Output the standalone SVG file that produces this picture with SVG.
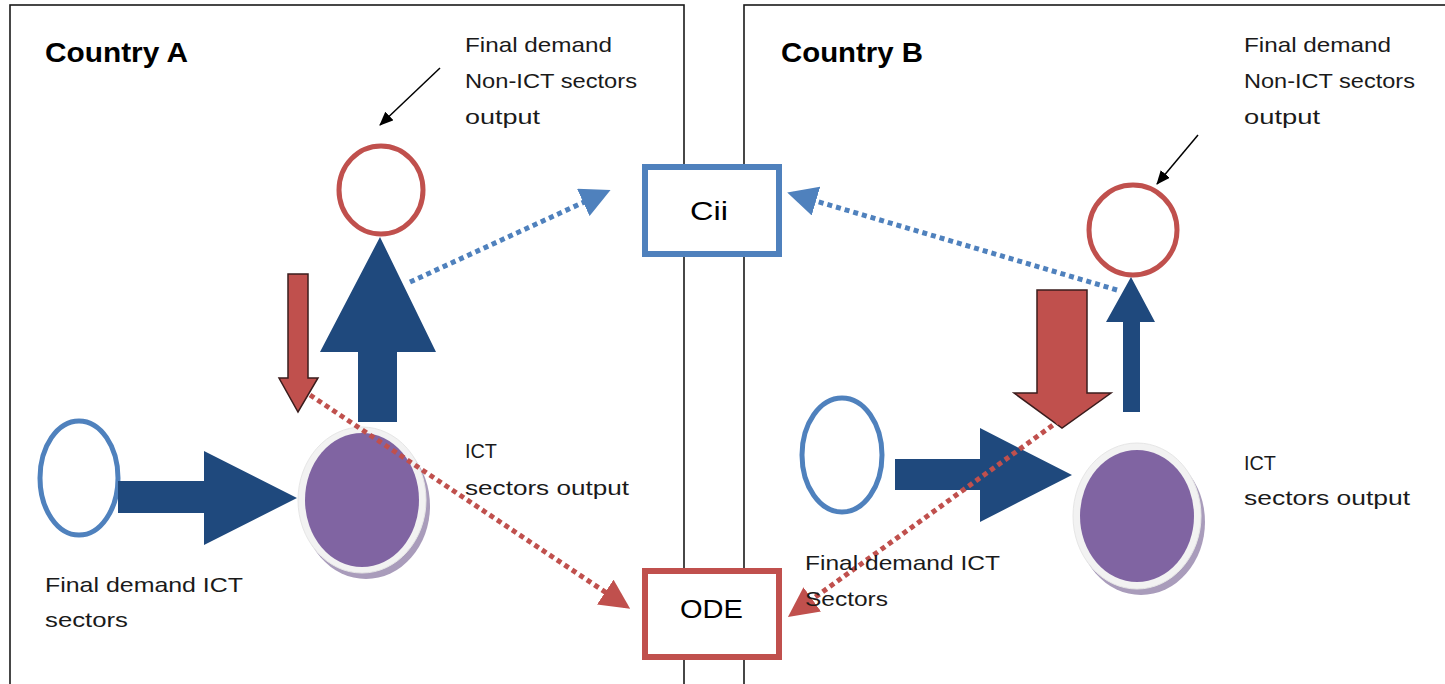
<svg xmlns="http://www.w3.org/2000/svg" width="1445" height="684" viewBox="0 0 1445 684">
  <defs>
    <style>
      .frame { fill: none; stroke: #1a1a1a; stroke-width: 1.6; }
      .lbl { font-family: "Liberation Sans", Arial, sans-serif; font-size: 21px; fill: #1a1a1a; }
      .title { font-family: "Liberation Sans", Arial, sans-serif; font-size: 27px; font-weight: bold; fill: #000; }
      .boxtxt { font-family: "Liberation Sans", Arial, sans-serif; font-size: 25px; fill: #000; }
      .redring { fill: #fff; stroke: #C0504D; stroke-width: 5; }
      .bluering { fill: #fff; stroke: #4F81BD; stroke-width: 5; }
      .purple { fill: #8064A2; }
      .halo { fill: #f2f2f2; stroke: #e6e6e6; stroke-width: 1; }
      .halo2 { fill: #a99cbb; }
      .bigblue { fill: #1F497D; }
      .bigred { fill: #C0504D; stroke: #3a1c1c; stroke-width: 1.5; }
      .dotblue { fill: none; stroke: #4F81BD; stroke-width: 5; stroke-dasharray: 5 4; }
      .dotred { fill: none; stroke: #C0504D; stroke-width: 5; stroke-dasharray: 5 4; }
      .pointer { fill: none; stroke: #000; stroke-width: 1.5; }
    </style>
    <marker id="headBlue" markerWidth="6" markerHeight="6" refX="5" refY="3" orient="auto" markerUnits="strokeWidth">
      <path d="M0,0 L6,3 L0,6 z" fill="#4F81BD"/>
    </marker>
    <marker id="headRed" markerWidth="6" markerHeight="6" refX="5" refY="3" orient="auto" markerUnits="strokeWidth">
      <path d="M0,0 L6,3 L0,6 z" fill="#C0504D"/>
    </marker>
    <marker id="headBlack" markerWidth="14" markerHeight="12" refX="13" refY="6" orient="auto" markerUnits="userSpaceOnUse">
      <path d="M0,0 L14,6 L0,12 z" fill="#000"/>
    </marker>
  </defs>

  <!-- country panels -->
  <g id="panel-a">
    <rect class="frame" x="10" y="5" width="674" height="700"/>
    <text class="title" x="45" y="62" textLength="143" lengthAdjust="spacingAndGlyphs">Country A</text>
  </g>
  <g id="panel-b">
    <rect class="frame" x="744" y="5" width="720" height="700"/>
    <text class="title" x="781" y="62" textLength="142" lengthAdjust="spacingAndGlyphs">Country B</text>
  </g>

  <!-- Country A nodes -->
  <g id="a-final-nonict">
    <ellipse class="redring" cx="381" cy="190" rx="42" ry="44"/>
    <text class="lbl" x="465" y="52" textLength="147" lengthAdjust="spacingAndGlyphs">Final demand</text>
    <text class="lbl" x="465" y="88" textLength="172" lengthAdjust="spacingAndGlyphs">Non-ICT  sectors</text>
    <text class="lbl" x="465" y="124" textLength="75" lengthAdjust="spacingAndGlyphs">output</text>
  </g>
  <g id="a-ict-output">
    <ellipse class="halo2" cx="366" cy="506" rx="64" ry="73"/>
    <ellipse class="halo" cx="362" cy="500" rx="64" ry="73"/>
    <ellipse class="purple" cx="362" cy="500" rx="57" ry="67"/>
    <text class="lbl" x="465" y="458" textLength="32" lengthAdjust="spacingAndGlyphs">ICT</text>
    <text class="lbl" x="465" y="495" textLength="164" lengthAdjust="spacingAndGlyphs">sectors output</text>
  </g>
  <g id="a-final-ict">
    <ellipse class="bluering" cx="79" cy="478" rx="39" ry="57"/>
    <text class="lbl" x="45" y="592" textLength="198" lengthAdjust="spacingAndGlyphs">Final demand ICT</text>
    <text class="lbl" x="45" y="627" textLength="83" lengthAdjust="spacingAndGlyphs">sectors</text>
  </g>

  <!-- Country B nodes -->
  <g id="b-final-nonict">
    <ellipse class="redring" cx="1133" cy="230" rx="44" ry="45"/>
    <text class="lbl" x="1244" y="52" textLength="147" lengthAdjust="spacingAndGlyphs">Final demand</text>
    <text class="lbl" x="1244" y="88" textLength="171" lengthAdjust="spacingAndGlyphs">Non-ICT sectors</text>
    <text class="lbl" x="1244" y="124" textLength="76" lengthAdjust="spacingAndGlyphs">output</text>
  </g>
  <g id="b-ict-output">
    <ellipse class="halo2" cx="1141" cy="522" rx="64" ry="73"/>
    <ellipse class="halo" cx="1137" cy="516" rx="64" ry="73"/>
    <ellipse class="purple" cx="1137" cy="516" rx="57" ry="66"/>
    <text class="lbl" x="1244" y="470" textLength="32" lengthAdjust="spacingAndGlyphs">ICT</text>
    <text class="lbl" x="1244" y="505" textLength="166" lengthAdjust="spacingAndGlyphs">sectors output</text>
  </g>
  <g id="b-final-ict">
    <ellipse class="bluering" cx="842" cy="455" rx="40" ry="57"/>
  </g>

  <!-- shared nodes -->
  <g id="cii">
    <rect x="645" y="167" width="134" height="87" fill="#fff" stroke="#4F81BD" stroke-width="6"/>
    <text class="boxtxt" x="690" y="220" textLength="38" lengthAdjust="spacingAndGlyphs">Cii</text>
  </g>
  <g id="ode">
    <rect x="645" y="571" width="134" height="86" fill="#fff" stroke="#C0504D" stroke-width="6"/>
    <text class="boxtxt" x="680" y="618" textLength="63" lengthAdjust="spacingAndGlyphs">ODE</text>
  </g>

  <!-- connectors -->
  <g id="connectors">
    <!-- block arrows, Country A -->
    <path class="bigblue" d="M358,422 L358,352 L320,352 L380,237 L436,352 L397,352 L397,422 Z"/>
    <path class="bigred" d="M288,274 L308,274 L308,378 L318,378 L298,412 L279,378 L288,378 Z"/>
    <path class="bigblue" d="M118,481 L204,481 L204,451 L297,498 L204,545 L204,513 L118,513 Z"/>
    <!-- block arrows, Country B -->
    <path class="bigblue" d="M1123,412 L1123,322 L1106,322 L1131,277 L1155,322 L1140,322 L1140,412 Z"/>
    <path class="bigred" d="M1037,290 L1087,290 L1087,393 L1111,393 L1062,428 L1014,393 L1037,393 Z"/>
    <path class="bigblue" d="M895,459 L980,459 L980,428 L1072,475 L980,522 L980,490 L895,490 Z"/>

    <!-- dotted flows -->
    <path class="dotblue" d="M410,282 L606,192" marker-end="url(#headBlue)"/>
    <path class="dotblue" d="M1117,290 L792,194" marker-end="url(#headBlue)"/>
    <path class="dotred" d="M310,395 L626,606" marker-end="url(#headRed)"/>
    <path class="dotred" d="M1060,420 L792,614" marker-end="url(#headRed)"/>

    <!-- label pointers -->
    <path class="pointer" d="M440,68 L380,125" marker-end="url(#headBlack)"/>
    <path class="pointer" d="M1198,135 L1157,184" marker-end="url(#headBlack)"/>
  </g>

  <!-- label drawn over the red flow in Country B -->
  <g id="b-final-ict-label">
    <text class="lbl" x="805" y="570" textLength="195" lengthAdjust="spacingAndGlyphs">Final demand ICT</text>
    <text class="lbl" x="805" y="606" textLength="83" lengthAdjust="spacingAndGlyphs">Sectors</text>
  </g>
</svg>
